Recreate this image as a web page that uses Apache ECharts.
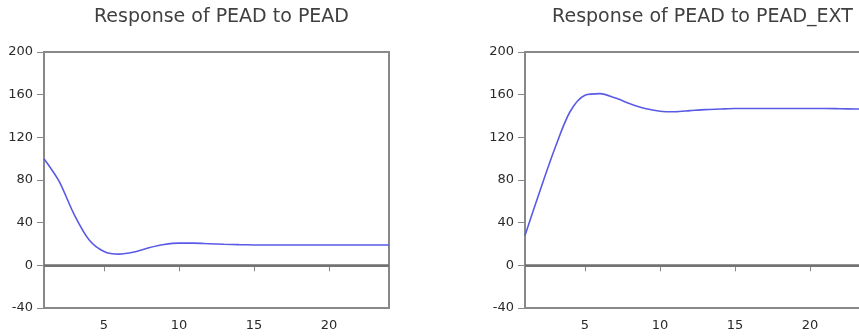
<!DOCTYPE html>
<html>
<head>
<meta charset="utf-8">
<script src="https://cdn.jsdelivr.net/npm/echarts@6/dist/echarts.min.js"></script>
<style>
html,body{margin:0;padding:0;background:#fff;}
#chart{width:859px;height:336px;}
</style>
</head>
<body>
<div id="chart"></div>
<script>
const periods = ['1','2','3','4','5','6','7','8','9','10','11','12','13','14','15','16','17','18','19','20','21','22','23','24'];
const titles = ['Response of PEAD to PEAD', 'Response of PEAD to PEAD_EXT'];
const peadToPead = [100, 79, 48, 24, 13, 10.5, 12.5, 16.5, 19.5, 20.8, 20.8, 20.3, 19.8, 19.4, 19.1, 19, 19, 19, 19, 19, 19, 19, 19, 19];
const peadToPeadExt = [28, 70, 110, 144, 159.5, 161, 157, 151.5, 147, 144.5, 144, 145, 146, 146.5, 147, 147, 147, 147, 147, 147, 147, 146.8, 146.6, 146.5];
const tickedPeriods = ['5','10','15','20'];
const yMin = -40, yMax = 200, yStep = 40;

const chart = echarts.init(document.getElementById('chart'), null, {renderer: 'canvas'});
const grids = [
  {left: 44, top: 52, width: 345, height: 256},
  {left: 525, top: 52, width: 345, height: 256}
];
const FONT = 'DejaVu Sans';
const seriesData = [peadToPead, peadToPeadExt];

const option = {
  animation: false,
  backgroundColor: '#fff',
  title: grids.map((g, i) => ({
    text: titles[i],
    left: g.left + g.width / 2,
    top: 3,
    textAlign: 'center',
    textStyle: {fontFamily: FONT, fontSize: 19, fontWeight: 'normal', color: '#404040'}
  })),
  grid: grids.map(g => Object.assign({
    show: true, borderColor: '#888', borderWidth: 2, backgroundColor: '#fff',
    containLabel: false, outerBoundsMode: 'none'
  }, g)),
  xAxis: grids.map((g, i) => ({
    type: 'category',
    gridIndex: i,
    data: periods,
    boundaryGap: false,
    axisLine: {show: true, lineStyle: {color: '#888', width: 2}},
    axisTick: {show: true, length: 6, inside: false, lineStyle: {color: '#888', width: 1},
      interval: (idx, val) => tickedPeriods.indexOf(val) >= 0},
    axisLabel: {show: true, margin: 11, fontFamily: FONT, fontSize: 13, color: '#2a2a2a',
      interval: (idx, val) => tickedPeriods.indexOf(val) >= 0},
    splitLine: {show: false}
  })),
  yAxis: grids.map((g, i) => ({
    type: 'value',
    gridIndex: i,
    min: yMin, max: yMax, interval: yStep,
    axisLine: {show: true, lineStyle: {color: '#888', width: 2}},
    axisTick: {show: true, length: 7, inside: false, lineStyle: {color: '#888', width: 1}},
    axisLabel: {show: true, margin: 11, fontFamily: FONT, fontSize: 13, color: '#2a2a2a'},
    splitLine: {show: false}
  })),
  series: seriesData.map((d, i) => ({
    type: 'line',
    xAxisIndex: i,
    yAxisIndex: i,
    data: d,
    showSymbol: false,
    symbol: 'none',
    smooth: 0.3,
    lineStyle: {color: '#5a5ae6', width: 1.6},
    markLine: {
      silent: true,
      symbol: ['none', 'none'],
      label: {show: false},
      lineStyle: {color: '#707070', width: 2.5, type: 'solid'},
      data: [{yAxis: 0}]
    }
  }))
};
chart.setOption(option);
</script>
</body>
</html>
